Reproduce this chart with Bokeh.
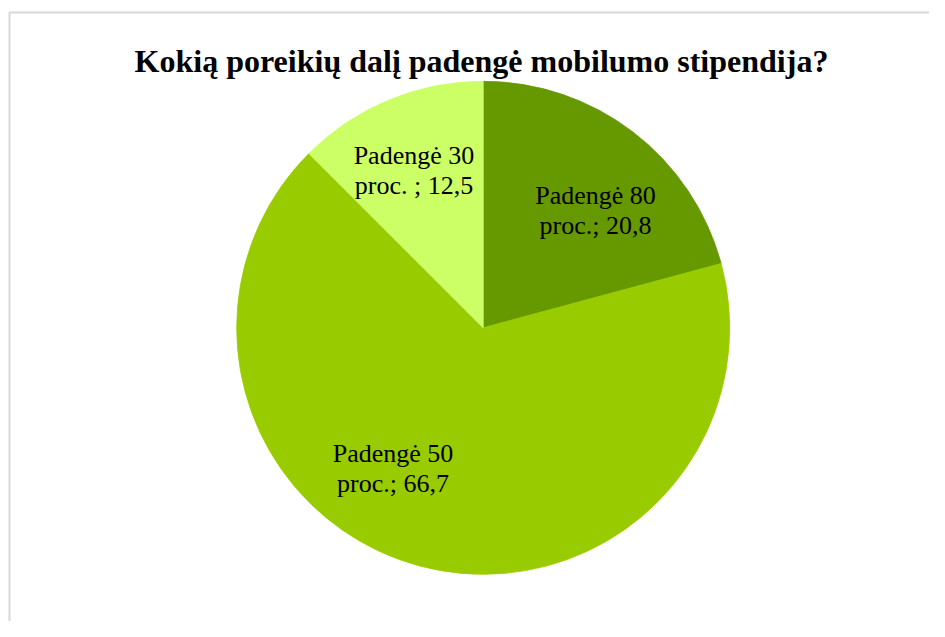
import math
from bokeh.plotting import figure
from bokeh.models import Range1d, Label, BoxAnnotation, ColumnDataSource
from bokeh.core.properties import value
from bokeh.embed import file_html
from bokeh.resources import INLINE

# ---- data ----
title_text = "Kokią poreikių dalį padengė mobilumo stipendija?"
categories = ["Padengė 80 proc.", "Padengė 50 proc.", "Padengė 30 proc. "]
values = [20.8, 66.7, 12.5]
colors = ["#669900", "#99CC00", "#CCFF66"]

# ---- layout constants ----
W, H = 929, 621
CX, CY = 482.7, 293.7      # pie centre (data units = pixels)
R = 246.5
label_r = [162.4, 166.7, 172.3]
label_nudge_deg = [-6.3, -17.8, 1.2]
LINE_GAP = 30
FONT = "Liberation Serif"

p = figure(width=W, height=H, output_backend="svg", toolbar_location=None,
           x_range=Range1d(0, W), y_range=Range1d(0, H),
           min_border=0, min_border_left=0, min_border_right=0,
           min_border_top=0, min_border_bottom=0)
p.axis.visible = False
p.grid.visible = False
p.outline_line_color = None
p.background_fill_color = "white"
p.border_fill_color = "white"

total = sum(values)
starts, ends, mids = [], [], []
acc = 0.0
for v in values:
    a0 = math.pi / 2 - 2 * math.pi * acc / total
    acc += v
    a1 = math.pi / 2 - 2 * math.pi * acc / total
    starts.append(a0)
    ends.append(a1)
    mids.append((a0 + a1) / 2)

src = ColumnDataSource(dict(start=starts, end=ends, color=colors))
p.wedge(x=CX, y=CY, radius=R, start_angle="start", end_angle="end",
        direction="clock", fill_color="color", line_color="color",
        line_width=0.8, source=src)

# labels
l1x, l1y, l1t, l2x, l2y, l2t = [], [], [], [], [], []
for i, (cat, v) in enumerate(zip(categories, values)):
    words = cat.split(" ", 2)
    line1 = " ".join(words[:2])
    rest = words[2]
    line2 = f"{rest}; {str(v).replace('.', ',')}"
    ang = mids[i] + math.radians(label_nudge_deg[i])
    ax = CX + label_r[i] * math.cos(ang)
    ay = CY + label_r[i] * math.sin(ang)
    l1x.append(ax); l1y.append(ay + LINE_GAP / 2); l1t.append(line1)
    l2x.append(ax); l2y.append(ay - LINE_GAP / 2); l2t.append(line2)

for xs, ys, ts in ((l1x, l1y, l1t), (l2x, l2y, l2t)):
    p.text(x=xs, y=ys, text=ts, text_font=value(FONT), text_font_size="26px",
           text_align="center", text_baseline="alphabetic", text_color="black")

# title
p.add_layout(Label(x=481, y=561, text=title_text, text_font=FONT,
                   text_font_size="32px", text_font_style="bold",
                   text_align="center", text_baseline="alphabetic",
                   text_color="black"))

# chart border (only left & top edges visible in the window)
p.add_layout(BoxAnnotation(left=9, right=W + 100, top=609, bottom=-100,
                           fill_color=None, fill_alpha=0,
                           line_color="#7a7a7a", line_width=2))

open("out.html", "w").write(file_html(p, INLINE))
